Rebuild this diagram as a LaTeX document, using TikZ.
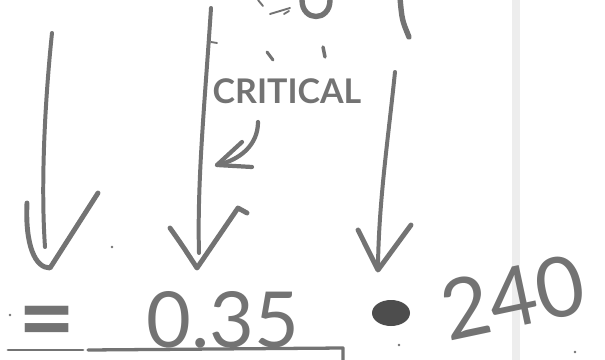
\documentclass[tikz,border=0pt]{standalone}
\usepackage{fontspec}
\setmainfont{Lato}
\usetikzlibrary{positioning, calc}
\definecolor{pencil}{HTML}{737373}
\definecolor{blot}{HTML}{4D4D4D}
\definecolor{pageedge}{HTML}{EDEDED}

\begin{document}
\begin{tikzpicture}[x=0.03cm, y=-0.03cm, line cap=round, line join=round,
	every node/.style={text=pencil, inner sep=0pt},
	shaft/.style={draw=pencil, line width=3.4pt},
	vhead/.style={draw=pencil, line width=4.2pt},
	scrawl/.style={draw=pencil, line width=1.6pt},
	blotch/.style={draw=pencil, line width=4.6pt}]
	
	\useasboundingbox (0,0) rectangle (605,360);
	\clip (0,0) rectangle (605,360);
	
	%//page edge of the scan
	\fill[pageedge] (512,0) rectangle (520,360);
	
	%//three long arrows
	\coordinate (atop) at (52,33);
	\coordinate (aend) at (45,247);
	\coordinate (btop) at (211,8);
	\coordinate (bend) at (199,253);
	\coordinate (ctop) at (395,72);
	\coordinate (cend) at (378,265);
	
	\draw[shaft] (atop) .. controls (44,110) and (41,190) .. (aend);
	\draw[shaft] (btop) .. controls (205,100) and (197,180) .. (bend);
	\draw[shaft] (ctop) .. controls (388,140) and (379,200) .. (cend);
	
	\draw[vhead] (27,203) .. controls (25,245) and (35,268) .. (50,268) -- (98,193);
	\draw[vhead] (170,228) .. controls (182,245) .. (197,268) -- (238,208) -- (247,213);
	\draw[vhead] (358,230) -- (378,270) -- (411,225);
	
	%//scraps at the top edge
	\draw[blotch] (302,0) .. controls (302,22) and (330,22) .. (330,0);
	\draw[blotch] (400,-2) .. controls (402,20) .. (409,37);
	\draw[scrawl] (258,0) -- (263,6);
	\draw[scrawl] (270,14) -- (290,8);
	\draw[scrawl] (284,14) -- (289,11);
	\draw[scrawl] (211,42) -- (217,43);
	\draw[scrawl, line width=2.6pt] (267,52) -- (273,60);
	\draw[scrawl, line width=3pt] (323,47) -- (325,57);
	
	%//label and its little arrow
	\node[font=\fontsize{29}{29}\selectfont\bfseries] (critical) at (287,91) {CRITICAL};
	\coordinate (crittail) at (258,122);
	\coordinate (crittip) at (217,165);
	\draw[vhead, line width=3.6pt] (crittail) .. controls (258,145) and (240,160) .. (crittip);
	\draw[vhead, line width=3.6pt] (242,142) -- (crittip) -- (252,167);
	
	%//bottom row
	\node[font=\fontsize{84}{84}\selectfont\bfseries] (eqsign) at (47,329) {=};
	\draw[scrawl, line width=2.4pt] (8,350) -- (83,350);
	\draw[shaft, line width=2.8pt] (88,350) -- (343,348) -- (343,360);
	\node[font=\fontsize{66}{66}\selectfont] (value) at (223,320) {0.35};
	\fill[blot] (391,313) ellipse [x radius=0.57cm, y radius=0.39cm];
	\node[font=\fontsize{71}{71}\selectfont, rotate=12] (count) at (513,297) {240};
	
	\foreach \x/\y in {112/247, 399/345, 575/352, 10/315}
	\fill[pencil] (\x,\y) circle [radius=0.04cm];
\end{tikzpicture}
\end{document}
